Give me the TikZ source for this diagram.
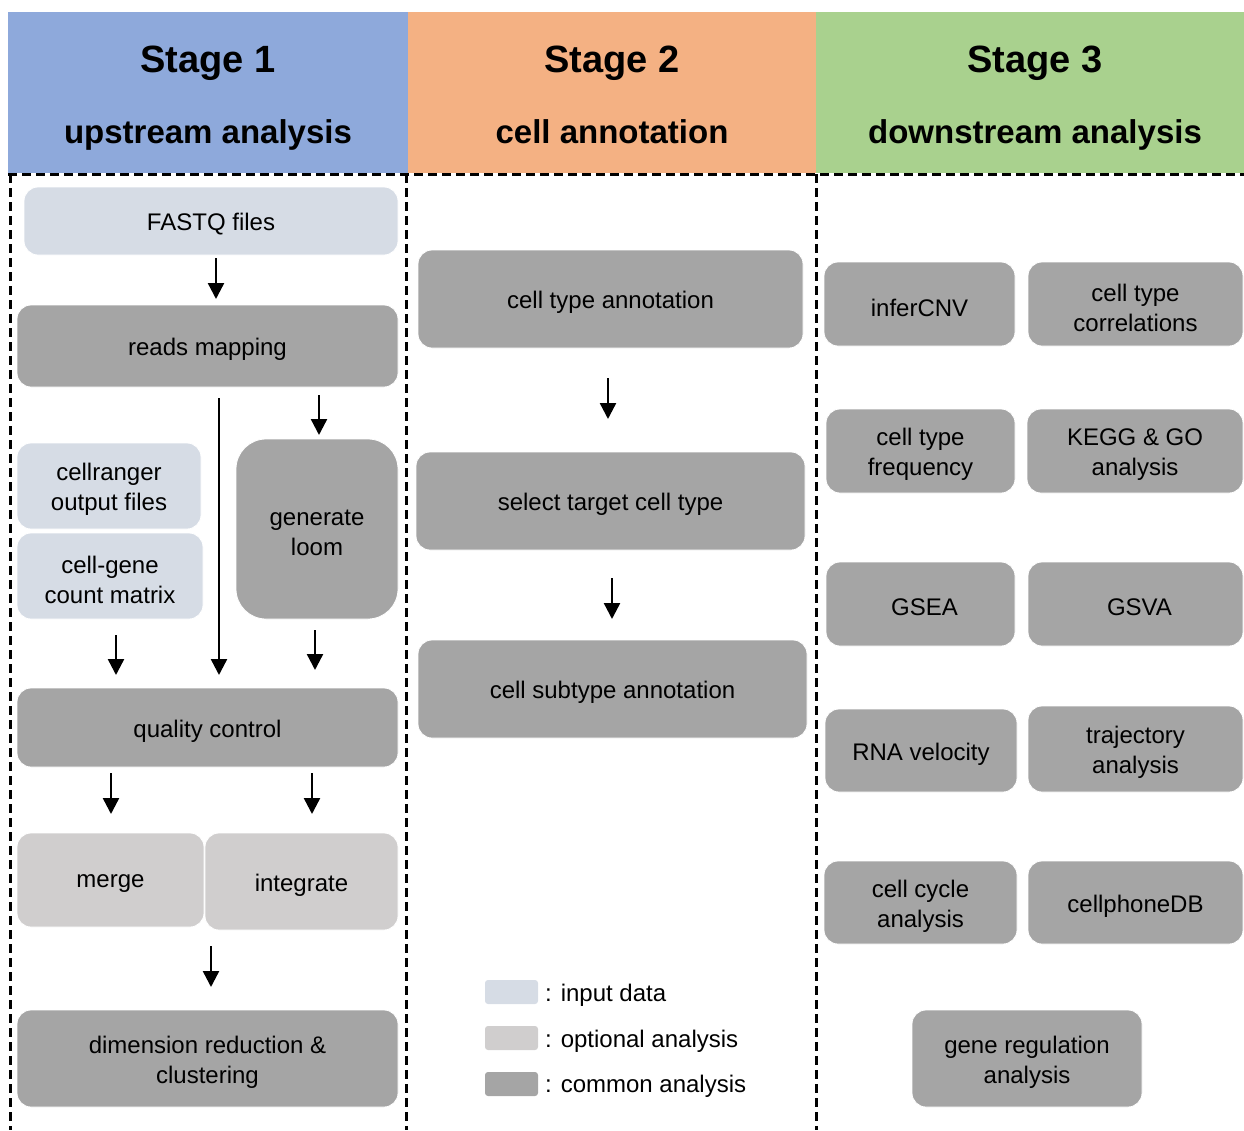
\documentclass[tikz,border=0pt]{standalone}
\usepackage{fontspec}
\setmainfont{Liberation Sans}
\usetikzlibrary{arrows.meta}
\definecolor{hblue}{HTML}{8EA9DB}
\definecolor{horange}{HTML}{F4B183}
\definecolor{hgreen}{HTML}{A9D18E}
\definecolor{inputc}{HTML}{D6DCE5}
\definecolor{optc}{HTML}{D0CECE}
\definecolor{comc}{HTML}{A5A5A5}
\newcommand{\boxnodeo}[8]{%
  \pgfmathsetmacro{\myBW}{#5-#3}\pgfmathsetmacro{\myBH}{#6-#4}%
  \node[#2, minimum width=\myBW pt, minimum height=\myBH pt] (#1) at ({(#3+#5)/2},{(#4+#6)/2}) {};
  \node[boxtext] (#1-t) at ([xshift=#8pt,yshift=-3.5pt]#1.center) {#7};}
\newcommand{\boxnode}[7]{\boxnodeo{#1}{#2}{#3}{#4}{#5}{#6}{#7}{0}}
\tikzset{
  basebox/.style={rounded corners=14pt, draw=white, line width=0.8pt, inner sep=0pt},
  boxtext/.style={inner sep=0pt, align=center, font=\fontsize{24}{30}\selectfont, text=black},
  inbox/.style={basebox, fill=inputc},
  optbox/.style={basebox, fill=optc},
  combox/.style={basebox, fill=comc},
  hdr/.style={inner sep=0pt, draw=none},
  htitle/.style={font=\fontsize{38}{40}\selectfont\bfseries},
  hsub/.style={font=\fontsize{33}{36}\selectfont\bfseries},
  flow/.style={line width=2.4pt, -{Triangle[width=16pt,length=16pt]}},
  sep/.style={line width=3pt, dash pattern=on 9pt off 5pt},
  legbox/.style={rounded corners=3pt, inner sep=0pt, minimum width=53pt, minimum height=24pt},
  legtext/.style={font=\fontsize{24}{28}\selectfont, anchor=west, inner sep=0pt}
}
\begin{document}
\begin{tikzpicture}[x=1pt,y=-1pt]
\useasboundingbox (0,0) rectangle (1244,1130);
% headers
\fill[hblue] (8,12) rectangle (408,173);
\fill[horange] (408,12) rectangle (816,173);
\fill[hgreen] (816,12) rectangle (1244,173);
\node[hdr,htitle] (s1) at (208,63) {Stage 1};
\node[hdr,hsub] (s1b) at (208,135) {upstream analysis};
\node[hdr,htitle] (s2) at (612,63) {Stage 2};
\node[hdr,hsub] (s2b) at (612,132) {cell annotation};
\node[hdr,htitle] (s3) at (1035,63) {Stage 3};
\node[hdr,hsub] (s3b) at (1035,135) {downstream analysis};
% separators
\draw[sep] (8,174) -- (1244,174);
\draw[sep] (10,174) -- (10,1130);
\draw[sep] (406,174) -- (406,1130);
\draw[sep] (816,174) -- (816,1130);
% stage 1
\boxnode{fastq}{inbox}{24}{187}{398}{255}{FASTQ files}
\boxnode{reads}{combox}{17}{305}{398}{387}{reads mapping}
\boxnode{cellr}{inbox}{17}{443}{201}{529}{cellranger\\output files}
\boxnode{cgm}{inbox}{17}{533}{203}{619}{cell-gene\\count matrix}
\boxnode{loom}{combox,rounded corners=30pt}{236}{439}{398}{619}{generate\\loom}
\boxnode{qc}{combox}{17}{688}{398}{767}{quality control}
\boxnode{merge}{optbox}{17}{833}{204}{927}{merge}
\boxnode{integ}{optbox}{205}{833}{398}{930}{integrate}
\boxnode{dimred}{combox}{17}{1010}{398}{1107}{dimension reduction \&\\clustering}
% stage 2
\boxnode{cta}{combox}{418}{250}{803}{348}{cell type annotation}
\boxnode{stc}{combox}{416}{452}{805}{550}{select target cell type}
\boxnode{csa}{combox}{418}{640}{807}{738}{cell subtype annotation}
% legend
\node[legbox,fill=inputc] (lg1) at (511.5,992) {};
\node[legbox,fill=optc] (lg2) at (511.5,1038) {};
\node[legbox,fill=comc] (lg3) at (511.5,1084) {};
\node[legtext] (lt1) at (545,995) {: input data};
\node[legtext] (lt2) at (545,1041) {: optional analysis};
\node[legtext] (lt3) at (545,1086) {: common analysis};
% stage 3
\boxnode{infer}{combox}{824}{262}{1015}{346}{inferCNV}
\boxnode{corr}{combox}{1028}{262}{1243}{346}{cell type\\correlations}
\boxnode{freq}{combox}{826}{409}{1015}{493}{cell type\\frequency}
\boxnode{kegg}{combox}{1027}{409}{1243}{493}{KEGG \& GO\\analysis}
\boxnodeo{gsea}{combox}{826}{562}{1015}{646}{GSEA}{4}
\boxnodeo{gsva}{combox}{1028}{562}{1243}{646}{GSVA}{4}
\boxnode{rnav}{combox}{825}{709}{1017}{792}{RNA velocity}
\boxnode{traj}{combox}{1028}{706}{1243}{792}{trajectory\\analysis}
\boxnode{ccyc}{combox}{824}{861}{1017}{944}{cell cycle\\analysis}
\boxnode{cpdb}{combox}{1028}{861}{1243}{944}{cellphoneDB}
\boxnode{generg}{combox}{912}{1010}{1142}{1107}{gene regulation\\analysis}
% arrow end points
\coordinate (a1s) at (216,258); \coordinate (a1e) at (216,299);
\coordinate (a2s) at (219,398); \coordinate (a2e) at (219,675);
\coordinate (a3s) at (319,395); \coordinate (a3e) at (319,435);
\coordinate (a4s) at (116,635); \coordinate (a4e) at (116,675);
\coordinate (a5s) at (315,630); \coordinate (a5e) at (315,670);
\coordinate (a6s) at (111,773); \coordinate (a6e) at (111,814);
\coordinate (a7s) at (312,773); \coordinate (a7e) at (312,814);
\coordinate (a8s) at (211,946); \coordinate (a8e) at (211,987);
\coordinate (b1s) at (608,378); \coordinate (b1e) at (608,419);
\coordinate (b2s) at (612,578); \coordinate (b2e) at (612,619);
\draw[flow] (a1s) -- (a1e);
\draw[flow] (a2s) -- (a2e);
\draw[flow] (a3s) -- (a3e);
\draw[flow] (a4s) -- (a4e);
\draw[flow] (a5s) -- (a5e);
\draw[flow] (a6s) -- (a6e);
\draw[flow] (a7s) -- (a7e);
\draw[flow] (a8s) -- (a8e);
\draw[flow] (b1s) -- (b1e);
\draw[flow] (b2s) -- (b2e);
\end{tikzpicture}
\end{document}
